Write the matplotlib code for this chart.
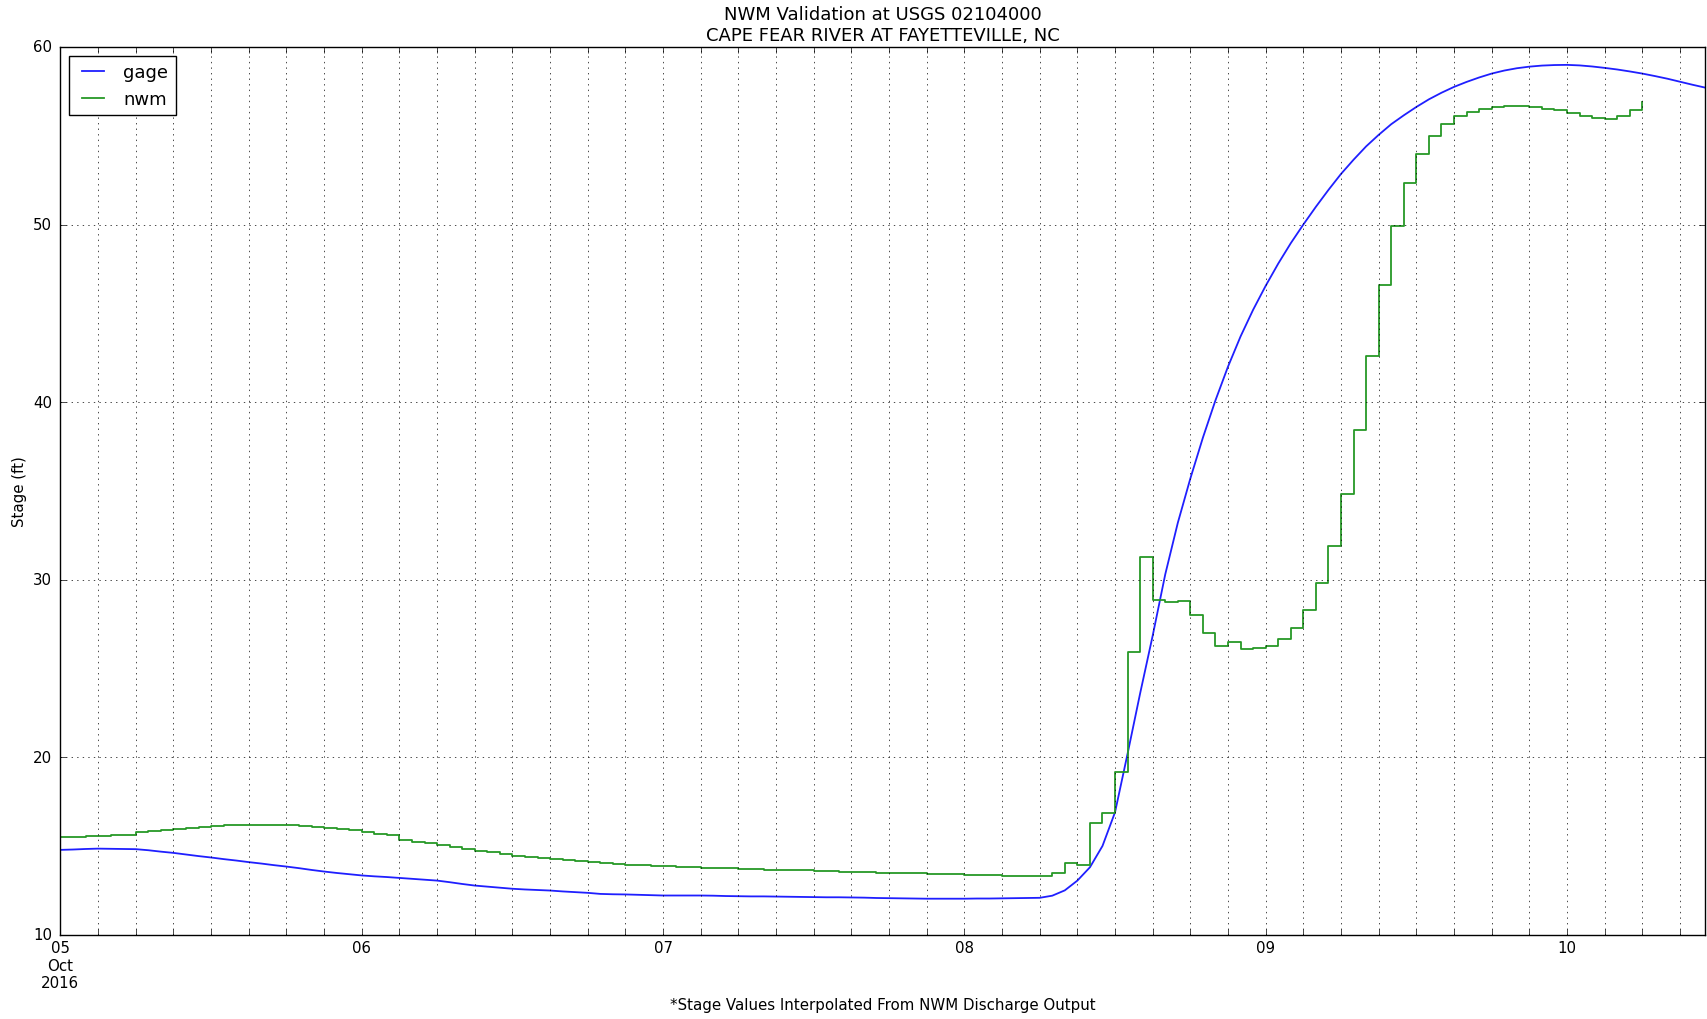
import numpy as np
import pandas as pd
import matplotlib
matplotlib.use('Agg')
import matplotlib.pyplot as plt
import matplotlib.dates as mdates
from matplotlib.ticker import FuncFormatter

# hourly stage values
gage_start = '2016-10-05 00:00'
gage_stage = [
    # Oct 05
    14.78, 14.80, 14.83, 14.85, 14.84, 14.83, 14.82, 14.76, 14.68, 14.61, 14.52, 14.43,
    14.35, 14.26, 14.18, 14.09, 14.01, 13.92, 13.84, 13.75, 13.65, 13.56, 13.48, 13.41,
    # Oct 06
    13.34, 13.29, 13.25, 13.20, 13.15, 13.10, 13.05, 12.96, 12.86, 12.77, 12.71, 12.65,
    12.59, 12.55, 12.52, 12.49, 12.44, 12.40, 12.36, 12.30, 12.28, 12.27, 12.25, 12.23,
    # Oct 07
    12.21, 12.21, 12.21, 12.21, 12.20, 12.18, 12.17, 12.16, 12.16, 12.15, 12.14, 12.13,
    12.12, 12.11, 12.11, 12.10, 12.09, 12.07, 12.06, 12.05, 12.04, 12.03, 12.03, 12.03,
    # Oct 08
    12.03, 12.04, 12.04, 12.05, 12.06, 12.07, 12.08, 12.20, 12.50, 13.05, 13.80, 15.00,
    16.90, 20.20, 23.60, 26.85, 30.30, 33.20, 35.70, 38.00, 40.10, 42.00, 43.70, 45.20,
    # Oct 09
    46.55, 47.80, 48.95, 50.00, 51.00, 51.95, 52.85, 53.65, 54.40, 55.05, 55.65, 56.15,
    56.62, 57.05, 57.42, 57.75, 58.03, 58.28, 58.50, 58.67, 58.80, 58.89, 58.95, 58.98,
    # Oct 10
    58.99, 58.96, 58.90, 58.82, 58.73, 58.62, 58.50, 58.36, 58.21, 58.04, 57.87, 57.71,
]

nwm_start = '2016-10-05 00:00'
nwm_stage = [
    # Oct 05
    15.49, 15.52, 15.55, 15.58, 15.60, 15.62, 15.77, 15.82, 15.90, 15.96, 16.03, 16.09,
    16.15, 16.17, 16.19, 16.20, 16.20, 16.19, 16.17, 16.13, 16.08, 16.02, 15.95, 15.88,
    # Oct 06
    15.78, 15.70, 15.62, 15.36, 15.25, 15.15, 15.06, 14.95, 14.85, 14.74, 14.64, 14.55,
    14.46, 14.38, 14.31, 14.24, 14.19, 14.14, 14.09, 14.03, 13.99, 13.95, 13.92, 13.89,
    # Oct 07
    13.86, 13.83, 13.80, 13.78, 13.76, 13.75, 13.73, 13.70, 13.67, 13.65, 13.63, 13.62,
    13.60, 13.58, 13.56, 13.54, 13.52, 13.50, 13.48, 13.46, 13.45, 13.43, 13.42, 13.40,
    # Oct 08
    13.39, 13.37, 13.35, 13.33, 13.32, 13.31, 13.30, 13.47, 14.06, 13.95, 16.27, 16.84,
    19.16, 25.95, 31.30, 28.87, 28.72, 28.78, 28.03, 26.98, 26.25, 26.47, 26.12, 26.13,
    # Oct 09
    26.28, 26.66, 27.30, 28.27, 29.80, 31.90, 34.80, 38.45, 42.60, 46.60, 49.90, 52.35,
    53.96, 55.00, 55.65, 56.10, 56.36, 56.53, 56.62, 56.66, 56.66, 56.62, 56.53, 56.44,
    # Oct 10
    56.29, 56.10, 55.97, 55.93, 56.10, 56.44, 56.90,
]

y_ticks = [10, 20, 30, 40, 50, 60]

gage_t = pd.date_range(gage_start, periods=len(gage_stage), freq='h')
nwm_t = pd.date_range(nwm_start, periods=len(nwm_stage), freq='h')

plt.style.use('classic')
plt.rcParams['font.family'] = 'DejaVu Sans'
plt.rcParams['font.size'] = 10.8

fig = plt.figure(figsize=(17.07, 10.2), dpi=100, facecolor='white')
ax = fig.add_subplot(111)
fig.subplots_adjust(left=0.0354, right=0.9989, bottom=0.0826, top=0.953)

ax.plot(gage_t, gage_stage, color='#1f1fff', lw=1.3, label='gage')
ax.plot(nwm_t, nwm_stage, color='#269926', lw=1.3, drawstyle='steps-post', label='nwm')

ax.set_xlim(gage_t[0], gage_t[-1])
ax.set_ylim(10, 60)
ax.set_yticks(y_ticks)

ax.xaxis.set_major_locator(mdates.DayLocator())
ax.xaxis.set_minor_locator(mdates.HourLocator(byhour=range(0, 24, 3)))


def day_fmt(x, pos):
    d = mdates.num2date(x)
    if pos == 0:
        return d.strftime('%d\n%b\n%Y')
    return d.strftime('%d')


ax.xaxis.set_major_formatter(FuncFormatter(day_fmt))
ax.tick_params(which='both', direction='in', top=True, right=True)
ax.tick_params(which='minor', length=4)
ax.tick_params(axis='y', pad=6)

ax.grid(True, which='both', axis='x', color='k', linestyle=':', linewidth=0.5)
ax.grid(True, which='major', axis='y', color='k', linestyle=':', linewidth=0.5)

ax.set_title('NWM Validation at USGS 02104000\nCAPE FEAR RIVER AT FAYETTEVILLE, NC', pad=5)
ax.set_ylabel('Stage (ft)', labelpad=4)
ax.set_xlabel('*Stage Values Interpolated From NWM Discharge Output')
ax.legend(loc='upper left', handlelength=1.8)

fig.savefig('out.png', dpi=100, facecolor='white')
